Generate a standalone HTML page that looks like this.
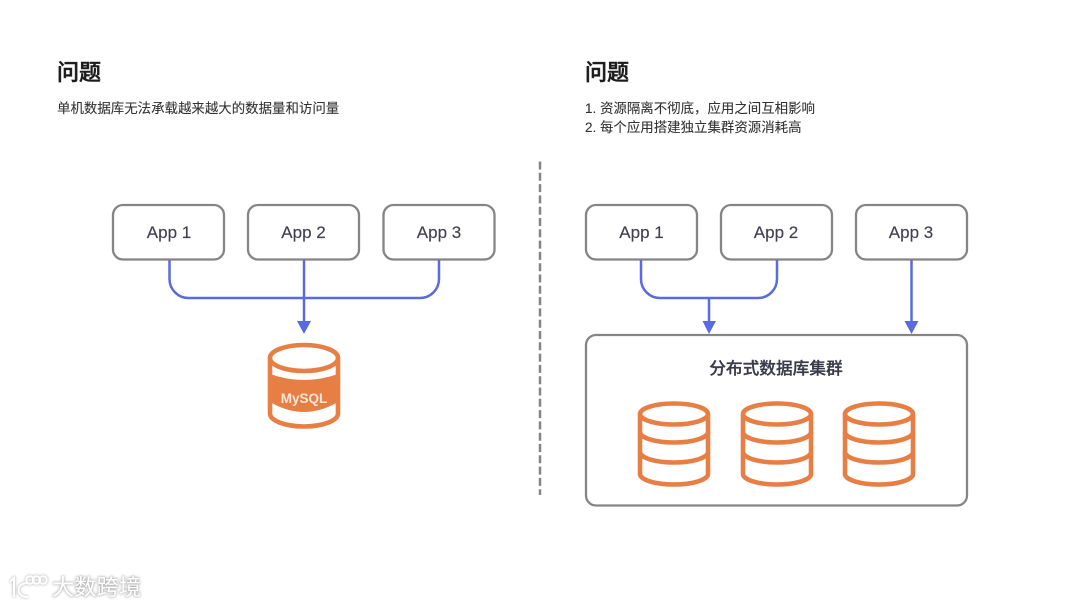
<!DOCTYPE html>
<html><head><meta charset="utf-8"><style>
html,body{margin:0;padding:0;background:#fff}
svg{display:block}
text{font-family:"Liberation Sans","Noto Sans CJK SC",sans-serif}
</style></head><body>
<svg width="1080" height="607" viewBox="0 0 1080 607" xmlns="http://www.w3.org/2000/svg">
<defs>
<filter id="b" x="-20%" y="-20%" width="140%" height="140%"><feGaussianBlur stdDeviation="0.35"/></filter>
<filter id="s" x="-20%" y="-40%" width="140%" height="180%"><feGaussianBlur stdDeviation="1.4"/></filter>
</defs>
<g filter="url(#b)">
<text x="57" y="80" font-size="22" font-weight="500" fill="#1c1c1c" stroke="#1c1c1c" stroke-width="0.5">问题</text>
<text x="57" y="113" font-size="13.450" fill="#333" stroke="#333" stroke-width="0.1">单机数据库无法承载越来越大的数据量和访问量</text>
<text x="585" y="80" font-size="22" font-weight="500" fill="#1c1c1c" stroke="#1c1c1c" stroke-width="0.5">问题</text>
<text x="585" y="113" font-size="13.450" fill="#333" stroke="#333" stroke-width="0.1">1. 资源隔离不彻底，应用之间互相影响</text>
<text x="585" y="132" font-size="13.450" fill="#333" stroke="#333" stroke-width="0.1">2. 每个应用搭建独立集群资源消耗高</text>

<line x1="540" y1="161.500" x2="540" y2="495" stroke="#858585" stroke-width="2.500" stroke-dasharray="8 3.300"/>

<g fill="#fff" stroke="#858585" stroke-width="2.300">
<rect x="113" y="205" width="111" height="54.500" rx="10"/>
<rect x="248" y="205" width="111" height="54.500" rx="10"/>
<rect x="383.500" y="205" width="111" height="54.500" rx="10"/>
<rect x="586" y="205" width="111" height="54.500" rx="10"/>
<rect x="721" y="205" width="111" height="54.500" rx="10"/>
<rect x="856" y="205" width="111" height="54.500" rx="10"/>
<rect x="586" y="335" width="381" height="170.500" rx="10"/>
</g>
<g font-size="17" fill="#3f3f50" text-anchor="middle" stroke="#3f3f50" stroke-width="0.15">
<text x="169" y="238">App 1</text>
<text x="303.500" y="238">App 2</text>
<text x="439" y="238">App 3</text>
<text x="641.500" y="238">App 1</text>
<text x="776" y="238">App 2</text>
<text x="911" y="238">App 3</text>
</g>
<text x="776" y="374" font-size="16.700" font-weight="500" fill="#3a3a48" stroke="#3a3a48" stroke-width="0.3" text-anchor="middle">分布式数据库集群</text>

<g fill="none" stroke="#5b6ae0" stroke-width="2.500">
<path d="M169.500 260V279a19 19 0 0 0 19 19H420a19 19 0 0 0 19-19V260"/>
<path d="M304 260V322"/>
<path d="M641 260V279a19 19 0 0 0 19 19H758a19 19 0 0 0 19-19V260"/>
<path d="M709 298V322"/>
<path d="M911.500 260V322"/>
</g>
<g fill="#5b6ae0">
<polygon points="297,321 311,321 304,334"/>
<polygon points="702.500,321 716,321 709,334"/>
<polygon points="904.500,321 918.500,321 911.500,334"/>
</g>

<!-- MySQL cylinder -->
<path d="M270 374Q304 386 338 374V402Q304 422 270 402Z" fill="#e77f45"/>
<g fill="none" stroke="#e77f45" stroke-width="4.600">
<ellipse cx="304" cy="358" rx="34" ry="13"/>
<path d="M270 358V413.500A34 13 0 0 0 338 413.500V358"/>
</g>
<text x="304" y="403" font-size="13.500" font-weight="700" fill="#fbe6d8" text-anchor="middle">MySQL</text>

<!-- Cluster cylinders -->
<g fill="none" stroke="#e77f45" stroke-width="4.600">
<g>
<ellipse cx="674" cy="414" rx="34" ry="10.500"/>
<path d="M640 414V474A34 10.500 0 0 0 708 474V414"/>
<path d="M640 432A34 10.500 0 0 0 708 432"/>
<path d="M640 452A34 10.500 0 0 0 708 452"/>
</g>
<g transform="translate(103 0)">
<ellipse cx="674" cy="414" rx="34" ry="10.500"/>
<path d="M640 414V474A34 10.500 0 0 0 708 474V414"/>
<path d="M640 432A34 10.500 0 0 0 708 432"/>
<path d="M640 452A34 10.500 0 0 0 708 452"/>
</g>
<g transform="translate(205 0)">
<ellipse cx="674" cy="414" rx="34" ry="10.500"/>
<path d="M640 414V474A34 10.500 0 0 0 708 474V414"/>
<path d="M640 432A34 10.500 0 0 0 708 432"/>
<path d="M640 452A34 10.500 0 0 0 708 452"/>
</g>
</g>
</g>

<!-- Watermark -->
<g filter="url(#s)" opacity="0.55">
<text x="52" y="595" font-size="22" fill="#777" stroke="#777" stroke-width="1.200" textLength="89">大数跨境</text>
<g fill="none" stroke="#777" stroke-width="2.500">
<path d="M10 582L14 578V597M27 583C16 583 15 597 28 597"/>
<circle cx="30" cy="580" r="3.800"/><circle cx="36.500" cy="580" r="3.800"/><circle cx="43" cy="580" r="3.800"/>
</g>
</g>
<text x="52" y="595" font-size="22" fill="#fff" textLength="89">大数跨境</text>
<g fill="none" stroke="#fff" stroke-width="2">
<path d="M10 582L14 578V597M27 583C16 583 15 597 28 597"/>
<circle cx="30" cy="580" r="3.800"/><circle cx="36.500" cy="580" r="3.800"/><circle cx="43" cy="580" r="3.800"/>
</g>
</svg>
</body></html>
